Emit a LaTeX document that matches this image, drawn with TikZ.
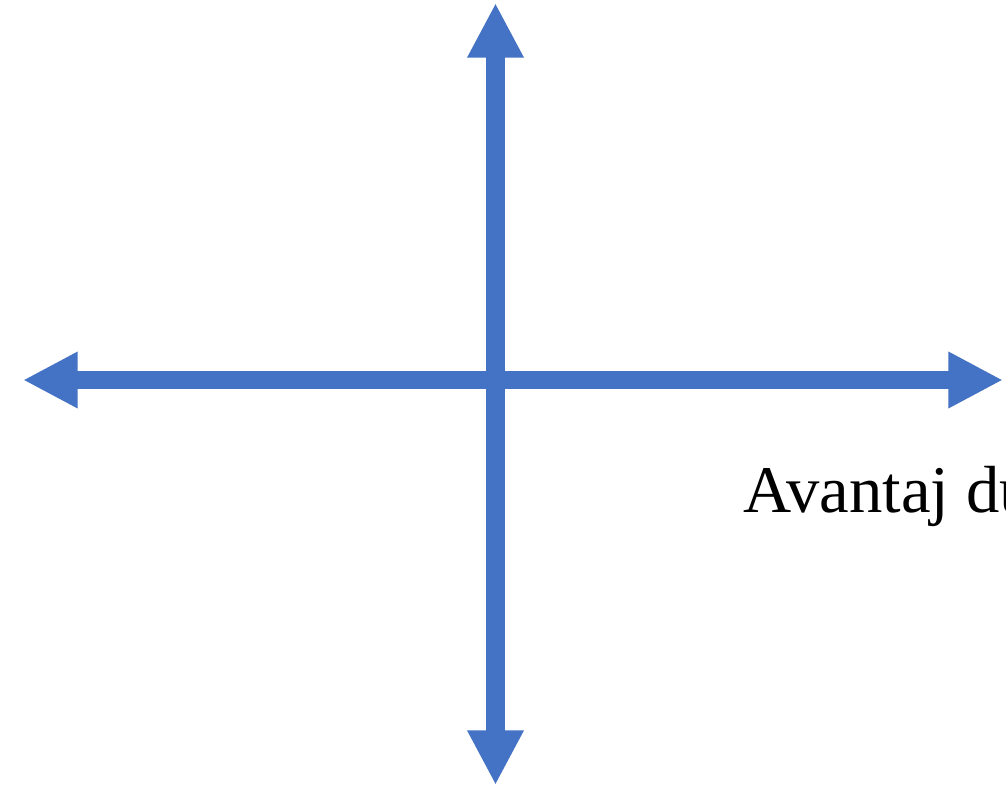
\documentclass[tikz,border=0pt]{standalone}
\usepackage{fontspec}
\setmainfont{Liberation Serif}
\usetikzlibrary{arrows.meta}
\definecolor{axisblue}{RGB}{68,114,196}
\tikzset{
  axisarrow/.style={draw=axisblue, line width=14pt, line cap=butt,
    {Triangle[length=41pt, width=39.5pt, fill=axisblue]}-{Triangle[length=41pt, width=39.5pt, fill=axisblue]}},
  axislabel/.style={anchor=base west, inner sep=0pt, font=\fontsize{50}{60}\selectfont}
}
\begin{document}
\begin{tikzpicture}[x=0.75pt, y=-0.75pt]
  \useasboundingbox (0,0) rectangle (1006,786);
  \clip (0,0) rectangle (1006,786);
  \coordinate (top) at (495.5,3);
  \coordinate (bottom) at (495.5,785);
  \coordinate (left) at (23,380);
  \coordinate (right) at (1003,380);
  \draw[axisarrow] (top) -- (bottom);
  \draw[axisarrow] (left) -- (right);
  \node[axislabel] (label) at (743,512) {Avantaj du};
\end{tikzpicture}
\end{document}
